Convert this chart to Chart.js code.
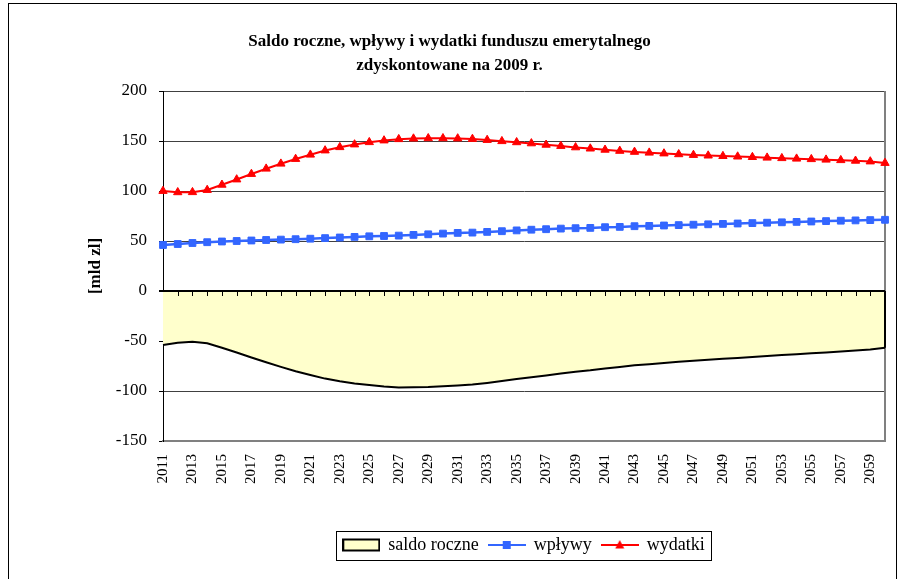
<!DOCTYPE html>
<html>
<head>
<meta charset="utf-8">
<script src="https://cdn.jsdelivr.net/npm/chart.js@4/dist/chart.umd.min.js"></script>
<style>
html,body{margin:0;padding:0;background:#fff;}
#wrap{width:899px;height:579px;}
</style>
</head>
<body>
<div id="wrap"><canvas id="c" width="899" height="579"></canvas></div>
<script>
const titleLines = ['Saldo roczne, wpływy i wydatki funduszu emerytalnego', 'zdyskontowane na 2009 r.'];
const yAxisTitle = '[mld zl]';
const seriesNames = ['saldo roczne', 'wpływy', 'wydatki'];

const years = ['2011','2012','2013','2014','2015','2016','2017','2018','2019','2020',
  '2021','2022','2023','2024','2025','2026','2027','2028','2029','2030',
  '2031','2032','2033','2034','2035','2036','2037','2038','2039','2040',
  '2041','2042','2043','2044','2045','2046','2047','2048','2049','2050',
  '2051','2052','2053','2054','2055','2056','2057','2058','2059','2060'];

const xTickLabels = ['2011','2013','2015','2017','2019','2021','2023','2025','2027','2029',
  '2031','2033','2035','2037','2039','2041','2043','2045','2047','2049',
  '2051','2053','2055','2057','2059'];

const yTickValues = [-150, -100, -50, 0, 50, 100, 150, 200];

const wplywy = [46, 47, 48, 48.8, 49.5, 50, 50.5, 51, 51.4, 51.8,
  52.3, 52.9, 53.5, 54.1, 54.7, 55, 55.4, 56.1, 56.7, 57.4,
  58.1, 58.4, 59.1, 59.8, 60.6, 61.3, 61.8, 62.4, 62.8, 63.1,
  63.8, 64.1, 64.8, 65.1, 65.5, 65.9, 66.3, 66.7, 67.1, 67.5,
  67.9, 68.3, 68.7, 69.1, 69.5, 69.9, 70.3, 70.6, 70.9, 71.2];

const wydatki = [100, 98.7, 98.8, 101, 106.2, 111.5, 117, 122.3, 127.3, 132,
  136.3, 140.5, 143.8, 146.5, 148.8, 150.5, 151.8, 152.4, 152.7, 152.7,
  152.5, 152, 151, 149.8, 148.7, 147.6, 146.2, 145, 143.6, 142.4,
  141.2, 140.1, 139.1, 138.3, 137.5, 136.7, 136, 135.4, 134.9, 134.4,
  133.9, 133.3, 132.8, 132.3, 131.8, 131.3, 130.8, 130.2, 129.5, 128];

const saldo = [-54, -51.7, -50.8, -52.2, -56.7, -61.5, -66.5, -71.3, -75.9, -80.2,
  -84, -87.6, -90.3, -92.4, -94.1, -95.5, -96.4, -96.3, -96, -95.3,
  -94.4, -93.6, -91.9, -90, -88.1, -86.3, -84.4, -82.6, -80.8, -79.3,
  -77.4, -76, -74.3, -73.2, -72, -70.8, -69.7, -68.7, -67.8, -66.9,
  -66, -65, -64.1, -63.2, -62.3, -61.4, -60.5, -59.6, -58.6, -56.8];

const FONT = "'Liberation Serif', 'Times New Roman', serif";
const AREA_FILL = '#FFFFCC';
const BLUE = '#3366FF';
const RED = '#FF0000';

function legendIcon(kind) {
  const c = document.createElement('canvas');
  c.width = 38; c.height = 14;
  const g = c.getContext('2d');
  if (kind === 'area') {
    g.fillStyle = AREA_FILL;
    g.fillRect(1, 1.5, 36, 11);
    g.strokeStyle = '#000'; g.lineWidth = 2;
    g.strokeRect(1, 1.5, 36, 11);
  } else if (kind === 'rect') {
    g.strokeStyle = BLUE; g.lineWidth = 2;
    g.beginPath(); g.moveTo(0, 7); g.lineTo(38, 7); g.stroke();
    g.fillStyle = BLUE; g.fillRect(15, 3, 8, 8);
  } else {
    g.strokeStyle = RED; g.lineWidth = 2;
    g.beginPath(); g.moveTo(0, 7); g.lineTo(38, 7); g.stroke();
    g.fillStyle = RED;
    g.beginPath(); g.moveTo(19, 2); g.lineTo(23.5, 10.5); g.lineTo(14.5, 10.5); g.closePath(); g.fill();
  }
  return c;
}
const icons = [legendIcon('area'), legendIcon('rect'), legendIcon('tri')];

const decorPlugin = {
  id: 'decor',
  beforeDraw(chart) {
    const ctx = chart.ctx;
    ctx.save();
    ctx.fillStyle = '#fff';
    ctx.fillRect(0, 0, chart.width, chart.height);
    ctx.strokeStyle = '#000'; ctx.lineWidth = 1;
    ctx.strokeRect(8.5, 3.5, 888, chart.height + 20);
    ctx.restore();
  },
  beforeDatasetsDraw(chart) {
    const {ctx, chartArea: a} = chart;
    ctx.save();
    ctx.strokeStyle = '#808080'; ctx.lineWidth = 2;
    ctx.beginPath(); ctx.moveTo(a.right, a.top); ctx.lineTo(a.right, a.bottom); ctx.stroke();
    ctx.restore();
  },
  afterDatasetsDraw(chart) {
    const {ctx, chartArea: a} = chart;
    const xs = chart.scales.x, ys = chart.scales.y;
    const y0 = ys.getPixelForValue(0);
    ctx.save();
    ctx.strokeStyle = '#000';
    ctx.lineWidth = 2;
    ctx.beginPath(); ctx.moveTo(a.left, y0); ctx.lineTo(a.right, y0); ctx.stroke();
    const xl = xs.getPixelForValue(years.length - 1);
    ctx.beginPath(); ctx.moveTo(xl, y0); ctx.lineTo(xl, ys.getPixelForValue(saldo[saldo.length - 1])); ctx.stroke();
    ctx.lineWidth = 1;
    ctx.beginPath();
    for (let i = 1; i < years.length - 1; i++) {
      const px = Math.round(xs.getPixelForValue(i)) + 0.5;
      ctx.moveTo(px, y0); ctx.lineTo(px, y0 + 5);
    }
    ctx.stroke();
    ctx.restore();
  },
  afterDraw(chart) {
    const lg = chart.legend;
    if (!lg || !lg.legendHitBoxes || !lg.legendHitBoxes.length) return;
    const hb = lg.legendHitBoxes;
    let minL = Infinity, maxR = -Infinity;
    hb.forEach(h => { minL = Math.min(minL, h.left); maxR = Math.max(maxR, h.left + h.width); });
    const first = hb[0];
    const ctx = chart.ctx;
    ctx.save();
    ctx.strokeStyle = '#000'; ctx.lineWidth = 1;
    const l = Math.round(minL - 7) + 0.5;
    const r = Math.round(maxR + 6) + 0.5;
    const t = Math.round(first.top - 5) + 0.5;
    const b = Math.round(first.top + first.height + 6) + 0.5;
    ctx.strokeRect(l, t, r - l, b - t);
    ctx.restore();
  }
};

new Chart(document.getElementById('c'), {
  type: 'line',
  data: {
    labels: years,
    datasets: [
      {
        label: seriesNames[0], data: saldo,
        borderColor: '#000', borderWidth: 2, backgroundColor: AREA_FILL,
        fill: 'origin', pointRadius: 0, tension: 0
      },
      {
        label: seriesNames[1], data: wplywy,
        borderColor: BLUE, backgroundColor: BLUE, borderWidth: 2.5,
        pointStyle: 'rect', pointRadius: 4.8, pointBorderWidth: 1,
        pointBorderColor: BLUE, pointBackgroundColor: BLUE, fill: false, tension: 0
      },
      {
        label: seriesNames[2], data: wydatki,
        borderColor: RED, backgroundColor: RED, borderWidth: 2,
        pointStyle: 'triangle', pointRadius: 4.8, pointBorderWidth: 1,
        pointBorderColor: RED, pointBackgroundColor: RED, fill: false, tension: 0
      }
    ]
  },
  options: {
    responsive: false,
    animation: false,
    devicePixelRatio: 1,
    layout: { padding: { left: 14, right: 14, top: 0, bottom: 15 } },
    plugins: {
      tooltip: { enabled: false },
      title: {
        display: true,
        text: titleLines,
        color: '#000',
        font: { family: FONT, size: 17, weight: 'bold', lineHeight: '24px' },
        padding: { top: 30, bottom: 13 }
      },
      legend: {
        display: true,
        position: 'bottom',
        fullSize: false,
        labels: {
          color: '#000',
          font: { family: FONT, size: 18 },
          usePointStyle: true,
          pointStyleWidth: 36,
          padding: 10,
          generateLabels(chart) {
            const items = Chart.defaults.plugins.legend.labels.generateLabels(chart);
            items.sort((a, b) => a.datasetIndex - b.datasetIndex);
            items.forEach((it) => { it.pointStyle = icons[it.datasetIndex]; it.hidden = false; });
            return items;
          }
        }
      }
    },
    scales: {
      x: {
        type: 'category',
        offset: false,
        grid: { display: false, drawTicks: false },
        border: { display: true, color: '#808080', width: 2 },
        ticks: {
          autoSkip: false, minRotation: 90, maxRotation: 90, padding: 13,
          color: '#000', font: { family: FONT, size: 15 },
          callback: function (value) {
            const lab = this.getLabelForValue(value);
            return xTickLabels.includes(lab) ? lab : '';
          }
        },
        afterFit(scale) { scale.height = 85; scale.paddingLeft = 0; scale.paddingRight = 0; }
      },
      y: {
        min: -150, max: 200,
        afterBuildTicks(scale) { scale.ticks = yTickValues.map(v => ({ value: v })); },
        grid: {
          color: (c) => c.tick && c.tick.value === 0 ? '#000' : (c.tick && c.tick.value === -150 ? '#808080' : '#404040'),
          lineWidth: (c) => c.tick && c.tick.value === 0 ? 2 : 1,
          tickColor: '#000',
          tickLength: 4,
          drawTicks: true
        },
        border: { display: true, color: '#000', width: 1 },
        ticks: { color: '#000', padding: 12, font: { family: FONT, size: 17 } },
        title: {
          display: true, text: yAxisTitle, color: '#000',
          font: { family: FONT, size: 17, weight: 'bold' },
          padding: { top: 71, bottom: 0 }
        },
        afterFit(scale) { scale.width = 149; }
      }
    }
  },
  plugins: [decorPlugin]
});
</script>
</body>
</html>
